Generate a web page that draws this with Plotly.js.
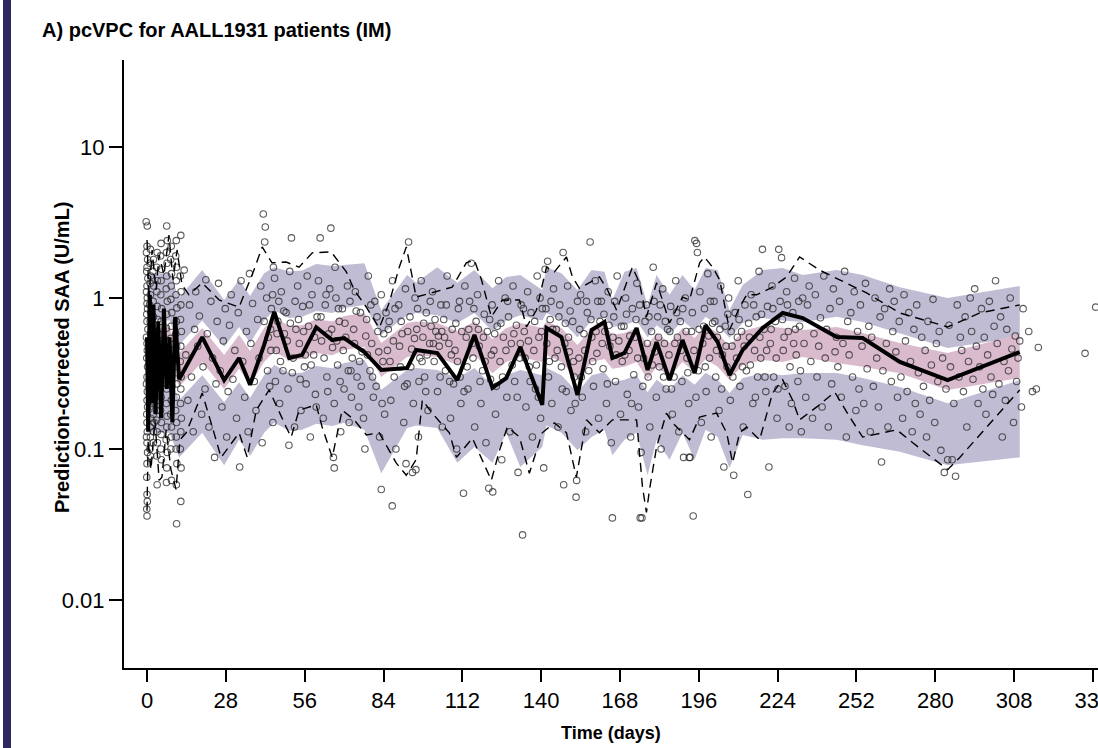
<!DOCTYPE html>
<html>
<head>
<meta charset="utf-8">
<script src="https://cdn.plot.ly/plotly-3.0.1.min.js"></script>
<style>html,body{margin:0;padding:0;background:#fff;}#chart{width:1098px;height:748px;}</style>
</head>
<body>
<div id="chart"></div>
<script>
// ---------- DATA ----------
const xTickVals = [0, 28, 56, 84, 112, 140, 168, 196, 224, 252, 280, 308, 336];
const xTickText = ['0','28','56','84','112','140','168','196','224','252','280','308','336'];
const yTickVals = [0.01, 0.1, 1, 10];
const yTickText = ['0.01','0.1','1','10'];

// observed median (thick black line)
const medianTime = [0,0.4,1,1.5,2.3,3,4,5,6,7,8,9,10,11.4,19.6,27.4,32.7,36.6,41.6,45.2,50.5,55.1,60.1,65.8,70.0,77.2,83.2,92.4,95.6,103.1,110.2,116.3,122.7,127.6,132.6,140.4,141.9,147.2,152.9,157.9,162.5,165.3,169.6,173.9,177.8,181.0,185.6,190.2,194.5,198.4,202.7,206.9,211.6,218.7,225.8,232.9,245.0,254.2,267.4,284.4,310.0];
const medianValue = [0.55,0.13,1.05,0.2,0.9,0.17,0.7,0.16,0.85,0.25,0.55,0.15,0.75,0.29,0.55,0.286,0.40,0.266,0.489,0.81,0.40,0.42,0.64,0.527,0.543,0.439,0.334,0.344,0.453,0.432,0.286,0.569,0.254,0.295,0.474,0.196,0.633,0.552,0.228,0.614,0.694,0.401,0.432,0.633,0.334,0.511,0.286,0.527,0.319,0.66,0.511,0.309,0.453,0.633,0.796,0.737,0.552,0.543,0.377,0.286,0.439];

// simulated prediction intervals (shaded bands)
const bandTime = [0,4,8,11.4,19.6,27.4,32.7,36.6,41.6,45.2,50.5,55.1,60.1,65.8,70.0,77.2,83.2,92.4,95.6,103.1,110.2,116.3,122.7,127.6,132.6,140.4,141.9,147.2,152.9,157.9,162.5,165.3,169.6,173.9,177.8,181.0,185.6,190.2,194.5,198.4,202.7,206.9,211.6,218.7,225.8,232.9,245.0,254.2,267.4,284.4,310.0];
const upperPIHi = [1.46,1.46,1.46,1.0,1.53,0.97,1.32,1.03,1.46,1.6,1.5,1.52,1.68,1.63,1.65,1.7,0.83,1.42,1.26,1.6,1.26,1.53,1.16,1.38,1.42,1.13,1.6,1.46,1.13,1.53,1.49,0.97,1.49,1.58,0.9,1.42,1.05,1.42,1.13,1.58,1.53,0.83,1.22,1.53,1.58,1.42,1.53,1.42,1.18,1.0,1.2];
const upperPILo = [0.71,0.71,0.71,0.488,0.71,0.475,0.643,0.503,0.71,0.83,0.737,0.75,0.82,0.796,0.858,0.9,0.57,0.77,0.796,0.77,0.683,0.796,0.604,0.71,0.77,0.71,0.796,0.71,0.55,0.71,0.75,0.643,0.66,0.71,0.55,0.66,0.57,0.71,0.61,0.75,0.66,0.543,0.683,0.737,0.71,0.694,0.75,0.694,0.586,0.466,0.552];
const medianPIHi = [0.633,0.633,0.633,0.432,0.633,0.42,0.57,0.445,0.633,0.737,0.654,0.66,0.725,0.70,0.76,0.796,0.503,0.683,0.70,0.683,0.604,0.70,0.535,0.633,0.683,0.633,0.70,0.633,0.488,0.633,0.66,0.57,0.586,0.633,0.488,0.586,0.503,0.633,0.543,0.66,0.586,0.48,0.604,0.654,0.633,0.614,0.643,0.586,0.503,0.432,0.58];
const medianPILo = [0.377,0.377,0.377,0.258,0.377,0.25,0.34,0.266,0.377,0.44,0.388,0.395,0.432,0.418,0.452,0.474,0.30,0.406,0.42,0.406,0.36,0.42,0.318,0.377,0.406,0.377,0.42,0.377,0.29,0.377,0.395,0.34,0.35,0.377,0.29,0.35,0.30,0.377,0.324,0.395,0.35,0.287,0.36,0.388,0.377,0.407,0.371,0.35,0.318,0.246,0.295];
const lowerPIHi = [0.308,0.308,0.308,0.21,0.308,0.204,0.277,0.218,0.308,0.36,0.318,0.32,0.354,0.343,0.371,0.39,0.247,0.334,0.344,0.334,0.295,0.344,0.261,0.308,0.334,0.308,0.344,0.308,0.238,0.308,0.324,0.277,0.287,0.308,0.238,0.287,0.247,0.308,0.266,0.32,0.287,0.235,0.295,0.318,0.308,0.319,0.319,0.295,0.257,0.201,0.286];
const lowerPILo = [0.128,0.128,0.128,0.088,0.128,0.078,0.115,0.09,0.128,0.149,0.132,0.134,0.147,0.142,0.149,0.134,0.069,0.138,0.143,0.138,0.081,0.103,0.081,0.128,0.076,0.103,0.143,0.128,0.098,0.12,0.134,0.091,0.115,0.128,0.067,0.115,0.085,0.128,0.085,0.134,0.12,0.075,0.124,0.115,0.118,0.118,0.115,0.106,0.096,0.078,0.088];

// observed 95th percentile (upper dashed)
const obsP95Time = [0,0.7,1.8,3.2,4.3,6.0,7.8,9.2,10.7,12.4,14.9,19.6,25.6,32.7,38.0,40.9,44.4,49.4,54.0,58.7,65.4,70.8,73.6,77.9,82.5,86.0,89.6,92.1,95.6,101.3,108.4,113.4,116.3,118.8,122.3,126.2,132.3,134.8,138.3,141.9,144.7,149.0,151.1,153.6,160.7,163.6,166.8,172.4,174.9,177.4,181.0,183.1,185.6,190.2,192.7,196.3,198.0,200.9,203.4,206.9,210.5,213.0,216.5,222.2,227.2,231.8,238.9,246.0,255.6,267.4,284.4,295.8,310.0];
const obsP95Value = [2.42,0.97,2.08,1.13,1.93,1.42,2.61,1.32,2.08,1.22,1.05,1.26,0.97,0.87,1.53,2.18,1.71,1.73,1.6,1.99,2.02,1.49,1.13,0.87,0.633,0.927,1.6,2.18,1.015,1.08,1.18,1.71,1.78,1.32,0.75,0.97,0.97,0.643,0.83,1.6,1.49,1.87,1.38,1.16,1.38,1.13,0.83,1.6,1.26,0.75,1.26,0.97,0.683,1.015,0.97,1.71,1.87,1.6,1.32,0.614,0.87,1.05,1.05,1.18,1.38,1.87,1.53,1.32,1.08,0.796,0.643,0.796,0.9];

// observed 5th percentile (lower dashed)
const obsP5Time = [0,0.4,1.4,2.8,4.3,5.3,6.8,8.5,10.3,11.7,13.9,19.6,23.8,26.3,32.7,35.6,38.8,43.4,49.4,51.2,54.0,60.1,62.2,65.8,69.3,73.6,77.9,82.5,86.0,88.5,92.1,95.6,97.8,101.3,107.4,109.9,115.6,119.1,122.3,125.2,128.0,132.3,135.8,140.4,144.7,149.0,152.5,156.1,160.7,165.3,170.3,173.9,176.0,177.4,178.5,181.0,184.5,186.7,192.7,196.3,202.3,205.9,208.0,210.5,213.0,217.6,222.2,225.8,229.3,231.8,237.9,244.3,249.6,254.2,266.3,272.0,284.4,288.7,298.3,310.0];
const obsP5Value = [0.039,0.115,0.073,0.156,0.062,0.065,0.134,0.073,0.054,0.115,0.128,0.235,0.128,0.088,0.128,0.088,0.181,0.246,0.14,0.12,0.181,0.196,0.14,0.088,0.181,0.156,0.124,0.128,0.098,0.081,0.067,0.085,0.211,0.173,0.128,0.088,0.118,0.085,0.062,0.098,0.14,0.12,0.069,0.128,0.149,0.128,0.065,0.156,0.128,0.156,0.156,0.156,0.056,0.038,0.054,0.103,0.173,0.149,0.115,0.163,0.173,0.128,0.081,0.128,0.14,0.115,0.235,0.287,0.211,0.156,0.19,0.238,0.163,0.12,0.134,0.11,0.073,0.088,0.14,0.246];

// observed prediction-corrected concentrations [time (days), SAA (U/mL)]
const observations = [
[-0.3,3.2],[0.1,3.0],[0,2.2],[-0.2,2.0],[0.2,1.8],[0,1.6],[-0.1,1.5],[0.3,1.35],[0,1.2],[-0.2,1.1],[0.1,1.0],[0,0.92],[0.2,0.85],[-0.1,0.78],[0,0.7],[0.3,0.62],[-0.2,0.55],[0,0.5],[0.1,0.45],[-0.1,0.4],[0.2,0.35],[0,0.3],[-0.2,0.27],[0.1,0.24],[0,0.21],[0.2,0.19],[-0.1,0.17],[0,0.15],[0.1,0.13],[-0.2,0.12],[0,0.11],[0.2,0.095],[0,0.08],[-0.1,0.065],[0,0.05],[0.1,0.045],[-0.1,0.04],[0,0.036],
[1.2,2.1],[1.0,1.7],[1.3,1.4],[1.1,1.25],[1.2,1.05],[0.9,0.9],[1.3,0.8],[1.1,0.7],[1.2,0.58],[1.0,0.5],[1.3,0.43],[1.1,0.37],[1.2,0.32],[0.9,0.26],[1.2,0.22],[1.0,0.19],[1.3,0.16],[1.1,0.14],[1.2,0.12],[1.0,0.1],[1.2,0.09],
[2.3,1.8],[2.1,1.5],[2.4,1.2],[2.2,0.95],[2.3,0.75],[2.5,0.6],[2.2,0.48],[2.4,0.4],[2.3,0.33],[2.1,0.28],[2.4,0.23],[2.3,0.2],[2.2,0.17],[2.5,0.15],[2.3,0.13],[2.2,0.11],
[3.6,2.0],[3.4,1.6],[3.7,1.3],[3.5,1.1],[3.6,0.88],[3.8,0.72],[3.5,0.6],[3.6,0.52],[3.4,0.44],[3.7,0.36],[3.6,0.3],[3.5,0.25],[3.7,0.21],[3.6,0.18],[3.4,0.155],[3.6,0.13],[3.7,0.11],[3.5,0.09],[3.6,0.058],
[5.0,2.3],[4.8,1.9],[5.1,1.55],[5.0,1.3],[4.9,1.05],[5.2,0.85],[5.0,0.7],[4.8,0.57],[5.1,0.47],[5.0,0.39],[4.9,0.33],[5.2,0.27],[5.0,0.22],[4.8,0.18],[5.1,0.15],[5.0,0.125],[4.9,0.1],[5.1,0.085],
[7.0,3.0],[7.2,2.4],[6.9,2.0],[7.1,1.7],[7.0,1.4],[6.8,1.15],[7.2,0.95],[7.0,0.78],[6.9,0.63],[7.1,0.52],[7.0,0.43],[6.8,0.36],[7.2,0.3],[7.0,0.25],[6.9,0.2],[7.1,0.165],[7.0,0.14],[6.8,0.115],[7.2,0.095],[7.0,0.075],[6.9,0.06],
[8.6,2.2],[8.4,1.8],[8.7,1.45],[8.6,1.2],[8.5,0.98],[8.8,0.8],[8.6,0.65],[8.4,0.54],[8.7,0.45],[8.6,0.37],[8.5,0.31],[8.8,0.26],[8.6,0.21],[8.4,0.17],[8.7,0.14],[8.6,0.12],[8.5,0.1],[8.7,0.062],
[10.4,2.4],[10.2,1.9],[10.5,1.6],[10.4,1.3],[10.3,1.05],[10.6,0.86],[10.4,0.7],[10.2,0.58],[10.5,0.48],[10.4,0.39],[10.3,0.32],[10.6,0.27],[10.4,0.22],[10.2,0.18],[10.5,0.15],[10.4,0.12],[10.3,0.1],[10.6,0.08],[10.4,0.058],[10.5,0.032],
[12.0,2.6],[11.8,1.4],[12.1,1.1],[12.0,0.9],[11.9,0.72],[12.2,0.6],[12.0,0.48],[11.8,0.38],[12.1,0.3],[12.0,0.25],[11.9,0.2],[12.2,0.16],[12.0,0.13],[11.8,0.1],[12.1,0.075],[12.0,0.045],
[13.2,1.53],[13.8,0.42],[14.5,0.21],[15.1,0.9],[15.8,0.3],[16.4,0.13],[16.9,0.62],
[17.3,1.1],[18.0,0.48],[18.6,0.76],[19.4,0.17],[19.9,0.35],[20.6,0.25],[20.9,1.32],
[21.4,0.58],[22.0,0.14],[22.7,0.95],[23.3,0.4],[24.0,0.088],[24.5,0.27],[24.9,0.7],
[25.4,1.25],[26.0,0.33],[26.6,0.19],[27.1,0.52],[27.8,0.85],[28.3,0.12],[28.8,0.24],
[29.3,0.66],[29.9,1.05],[30.5,0.29],[31.2,0.45],[31.8,0.16],[32.4,0.8],[32.9,0.076],
[33.4,1.3],[34.0,0.38],[34.7,0.22],[35.3,0.6],[35.9,0.13],[36.4,1.45],[36.9,0.5],
[37.5,0.92],[38.1,0.28],[38.7,0.18],[39.3,0.72],[39.8,0.4],[40.4,1.2],[40.9,0.11],
[41.3,3.6],[42.0,2.95],[41.8,2.35],[42.5,1.0],[43.1,0.55],[43.6,0.26],[44.2,0.85],[44.7,0.15],[44.9,1.6],[43.9,0.62],
[45.3,1.35],[45.9,0.45],[46.5,0.7],[47.1,0.2],[47.7,1.1],[48.3,0.33],[48.8,0.58],[46.8,0.95],
[49.4,0.8],[50.1,0.25],[50.7,1.5],[51.3,2.5],[51.9,0.4],[52.4,0.14],[52.9,0.62],[50.4,0.106],
[53.5,1.2],[54.1,0.5],[54.7,0.18],[55.3,0.88],[55.9,0.35],[56.5,0.27],[56.9,1.4],
[57.4,0.65],[58.0,0.12],[58.6,1.05],[59.2,0.42],[59.8,0.23],[60.4,0.75],[60.9,1.3],
[61.5,2.5],[62.0,0.52],[62.6,0.16],[63.3,0.9],[63.9,0.3],[64.5,0.58],[64.9,1.15],
[65.3,2.9],[65.9,0.47],[66.5,0.2],[67.1,1.0],[67.7,0.36],[68.3,0.7],[68.8,0.13],[66.8,1.6],
[69.4,0.85],[70.0,0.25],[70.6,0.55],[71.2,1.2],[71.8,0.15],[72.4,0.33],[72.9,0.4],
[73.4,0.62],[74.0,1.1],[74.6,0.3],[75.2,0.19],[75.8,0.8],[76.4,0.44],[76.9,0.16],
[77.4,0.1],[78.0,0.72],[78.6,1.4],[79.2,0.33],[79.8,0.5],[80.4,0.22],[80.9,0.95],
[81.4,0.26],[82.0,0.6],[82.6,0.12],[83.2,1.05],[83.8,0.38],[84.4,0.17],[84.9,0.8],[83.2,0.054],
[85.4,0.45],[86.0,0.7],[86.6,0.21],[87.2,1.3],[87.8,0.3],[88.4,0.1],[87.1,0.042],
[89.4,0.9],[90.0,0.35],[90.6,0.58],[91.2,0.15],[91.8,1.15],[92.4,0.27],[92.9,2.35],[92.0,0.08],
[93.4,0.75],[94.0,0.46],[94.6,0.2],[95.2,1.0],[95.8,0.62],[96.4,0.12],[96.9,0.4],[95.5,0.073],[94.3,0.07],
[97.4,1.3],[98.0,0.55],[98.6,0.3],[99.2,0.8],[99.8,0.18],[100.4,0.5],[100.9,0.65],[99.5,0.42],
[101.4,1.1],[102.0,0.38],[102.6,0.6],[103.2,0.24],[103.8,0.48],[104.4,0.9],[104.9,0.14],[103.5,0.56],
[105.4,0.72],[106.0,0.33],[106.6,1.4],[107.2,0.5],[107.8,0.16],[108.4,0.62],[108.9,0.27],
[109.4,0.45],[110.0,0.1],[110.6,0.85],[111.2,0.3],[111.8,0.6],[112.4,0.051],[112.9,1.2],[111.5,0.2],
[113.4,0.55],[114.0,0.25],[114.6,0.95],[115.2,1.7],[115.8,0.4],[116.4,0.14],[116.9,0.7],
[117.4,1.05],[118.0,0.48],[118.6,0.2],[119.2,0.33],[119.8,0.78],[120.4,0.11],[120.9,0.6],
[121.4,0.055],[122.0,0.29],[122.6,0.9],[123.2,0.45],[123.8,0.17],[124.4,0.65],[124.9,1.3],[122.8,0.052],
[125.4,0.38],[126.0,0.085],[126.6,0.55],[127.2,1.0],[127.8,0.22],[128.4,0.75],[128.9,0.13],
[129.4,0.5],[130.0,1.2],[130.6,0.28],[131.2,0.66],[131.8,0.07],[132.4,0.4],[132.9,0.9],
[133.4,0.027],[134.0,0.6],[134.6,0.19],[135.2,1.1],[135.8,0.35],[136.4,0.8],[136.9,0.12],
[137.4,0.45],[138.0,0.25],[138.6,1.4],[139.2,0.55],[139.8,0.16],[140.4,0.85],[140.9,0.075],[139.6,1.0],
[141.4,1.55],[142.0,0.5],[142.6,0.3],[143.2,0.72],[143.8,0.2],[144.4,1.15],[144.9,0.4],[142.3,1.75],
[145.4,0.62],[146.0,0.14],[146.6,0.9],[147.2,0.35],[147.8,2.0],[148.4,0.5],[148.9,0.24],[148.0,0.058],
[149.4,1.2],[150.0,0.44],[150.6,0.18],[151.2,0.7],[151.8,0.3],[152.4,0.048],[152.9,0.95],[152.6,0.062],
[153.4,0.4],[154.0,1.05],[154.6,0.22],[155.2,0.58],[155.8,0.13],[156.4,0.8],[156.9,0.33],
[157.4,2.35],[158.0,0.55],[158.6,0.26],[159.2,1.3],[159.8,0.43],[160.4,0.16],[160.9,0.7],
[161.4,0.95],[162.0,0.34],[162.6,0.6],[163.2,0.2],[163.8,1.1],[164.4,0.48],[164.9,0.11],
[165.3,0.035],[165.8,0.75],[166.4,0.28],[167.0,1.4],[167.6,0.52],[168.2,0.17],[168.8,0.38],
[169.4,0.65],[170.0,1.0],[170.6,0.23],[171.2,0.45],[171.8,0.12],[172.4,0.85],[172.9,0.31],
[173.4,0.55],[174.0,1.25],[174.6,0.19],[175.2,0.035],[175.8,0.035],[176.4,0.4],[176.9,0.7],[175.5,0.095],
[177.4,0.9],[178.0,0.3],[178.6,0.14],[179.2,0.6],[179.8,1.6],[180.4,0.44],[180.9,0.22],
[181.4,0.75],[182.0,0.35],[182.6,0.1],[183.2,1.15],[183.8,0.5],[184.4,0.25],[184.9,0.62],
[185.4,0.42],[186.0,0.88],[186.6,0.17],[187.2,0.3],[187.8,1.3],[188.4,0.55],[188.9,0.13],
[189.4,0.7],[190.0,0.28],[190.6,0.088],[191.2,1.0],[191.8,0.4],[192.4,0.2],[192.9,0.088],[192.6,0.088],
[193.4,0.6],[194.0,0.036],[194.6,2.4],[195.2,2.3],[195.8,0.33],[196.4,1.1],[196.9,0.15],[195.5,2.0],
[197.4,0.5],[198.0,0.85],[198.6,0.24],[199.2,1.45],[199.8,0.4],[200.4,0.12],[200.9,0.68],
[201.4,0.95],[202.0,0.3],[202.6,0.55],[203.2,0.18],[203.8,1.2],[204.4,0.42],[204.9,0.076],
[205.4,0.65],[206.0,0.35],[206.6,1.0],[207.2,0.21],[207.8,0.48],[208.4,0.067],[208.9,0.8],
[209.4,0.4],[210.0,1.3],[210.6,0.26],[211.2,0.6],[211.8,0.14],[212.4,0.9],[212.9,0.33],
[213.4,0.05],[214.0,0.55],[214.6,1.05],[215.2,0.2],[215.8,0.45],[216.4,0.75],[216.9,0.3],
[217.4,1.5],[218.0,0.4],[218.6,2.1],[219.2,0.62],[219.8,0.24],[220.4,0.88],[220.9,0.076],
[221.4,0.5],[222.0,1.2],[222.6,0.3],[223.2,0.7],[223.8,0.16],[224.4,2.1],[224.9,0.95],
[225.4,1.85],[226.0,0.45],[226.6,0.26],[227.2,1.1],[227.8,0.6],[228.4,0.35],[228.9,0.2],
[229.4,0.8],[230.0,1.35],[230.6,0.42],[231.2,0.28],[231.8,0.65],[232.4,0.13],[232.9,1.0],
[233.4,0.5],[234.0,0.22],[234.6,0.9],[235.2,1.2],[235.8,0.38],[236.4,0.16],[236.9,0.58],
[237.4,1.05],[238.0,0.3],[238.6,0.48],[239.2,0.74],[239.8,0.19],[240.4,1.4],[240.9,0.4],
[241.4,0.62],[242.0,0.14],[242.6,0.85],[243.2,0.27],[243.8,1.15],[244.4,0.44],[244.9,0.55],
[245.4,0.35],[246.0,0.95],[246.6,0.22],[247.2,0.5],[247.8,1.5],[248.4,0.12],[248.9,0.7],
[249.4,0.42],[250.0,0.8],[250.6,0.3],[251.2,1.1],[251.8,0.18],[252.4,0.6],[252.9,0.25],
[253.4,0.9],[254.0,0.48],[254.6,0.2],[255.2,1.25],[255.8,0.34],[256.4,0.65],[256.9,0.13],
[257.4,0.55],[258.0,0.26],[258.6,1.0],[259.2,0.4],[259.8,0.19],[260.4,0.75],[260.9,0.082],
[261.4,0.33],[262.0,0.85],[262.6,0.5],[263.2,0.14],[263.8,1.15],[264.4,0.28],[264.9,0.6],
[265.4,0.95],[266.0,0.44],[266.6,0.22],[267.2,0.7],[267.8,0.3],[268.4,0.16],[268.9,1.05],
[269.4,0.52],[270.0,0.24],[270.6,0.8],[271.2,0.38],[271.8,0.13],[272.4,0.62],[272.9,0.2],
[273.4,0.9],[274.0,0.32],[274.6,0.17],[275.2,0.55],[275.8,0.26],[276.4,0.45],[276.9,0.12],
[277.4,0.7],[278.0,0.21],[278.6,0.36],[279.2,0.98],[279.8,0.15],[280.4,0.5],[280.9,0.28],
[281.4,0.6],[282.0,0.098],[282.6,0.4],[283.2,0.07],[283.8,0.25],[284.4,0.085],[284.9,0.66],
[285.4,0.35],[286.0,0.085],[286.6,0.2],[287.2,0.066],[287.8,0.9],[288.4,0.3],[288.9,0.55],
[289.4,0.45],[290.0,0.24],[290.6,0.75],[291.2,0.14],[291.8,0.38],[292.4,1.0],[292.9,0.6],
[293.4,0.29],[294.0,1.15],[294.6,0.48],[295.2,0.2],[295.8,0.35],[296.4,0.85],[296.9,0.25],
[297.4,0.55],[298.0,0.17],[298.6,0.42],[299.2,0.95],[299.8,0.3],[300.4,0.23],[300.9,0.65],
[301.4,1.3],[302.0,0.5],[302.6,0.27],[303.2,0.75],[303.8,0.12],[304.4,0.38],[304.9,0.21],
[305.4,0.62],[306.0,0.33],[306.6,1.0],[307.2,0.46],[307.8,0.15],[308.4,0.56],[308.9,0.28],
[309.4,0.4],[310.0,0.52],[310.6,0.19],[311.2,0.85],
[313.2,0.6],[314.5,0.24],[315.9,0.25],[316.6,0.47],[333.2,0.43],[337.0,0.87],
[41.6,0.7],[42.8,0.33],[44.0,0.45],[44.6,1.05],[45.6,0.28],[46.2,0.58],[47.4,0.38],[48.6,0.82],
[49.8,0.52],[50.9,0.68],[51.6,0.32],[52.6,0.95],[53.8,0.72],[54.4,0.29],[55.6,0.6],[56.2,0.42],
[57.7,0.9],[58.3,0.36],[59.5,0.55],[60.1,0.19],[61.8,0.75],[62.9,0.4],[63.6,1.05],[64.2,0.24],
[65.6,0.62],[66.2,0.088],[66.5,0.075],[67.4,0.52],[68.0,0.85],[68.6,0.28],
[69.7,0.45],[70.3,0.68],[71.5,0.33],[72.1,0.95],[72.6,0.22],[73.7,0.5],[74.3,0.82],[75.5,0.38],[76.1,0.26],
[77.7,0.56],[78.3,0.42],[79.5,0.9],[80.1,0.3],[81.7,0.75],[82.3,0.44],[83.5,0.2],[84.1,0.58],
[85.7,0.62],[86.3,0.38],[87.5,0.52],[88.1,0.85],[89.7,0.48],[90.3,0.7],[91.5,0.26],[92.6,0.6],
[93.7,0.35],[95.0,0.54],[96.1,0.85],[96.6,0.28],[97.7,0.38],[98.3,0.68],[99.0,0.24],[100.6,0.95],
[101.7,0.5],[102.3,0.72],[104.1,0.3],[104.7,0.6],[105.7,0.55],[106.3,0.9],[107.5,0.28],[108.1,0.42],
[109.7,0.68],[110.3,0.38],[111.0,0.95],[112.6,0.24],[113.7,0.35],[114.3,0.62],[115.5,0.5],[116.1,0.85],
[117.7,0.62],[118.3,0.28],[119.5,0.55],[120.1,0.38],[121.7,0.72],[122.3,0.42],[123.5,0.58],[124.1,0.26],
[125.7,0.68],[126.3,0.3],[127.5,0.45],[128.1,0.95],[129.7,0.36],[130.3,0.58],[131.5,0.22],[132.6,0.5],
[133.7,0.85],[134.3,0.4],[135.5,0.52],[136.1,0.28],[137.7,0.7],[138.3,0.36],[139.0,0.22],[140.1,0.6],
[141.7,0.85],[142.9,0.38],[143.5,0.95],[144.1,0.62],[145.7,0.45],[146.3,0.75],[147.5,0.25],[148.6,0.68],
[149.7,0.55],[150.3,0.82],[151.5,0.38],[152.1,0.2],[153.7,0.62],[154.3,0.3],[155.5,0.45],[156.1,0.95],
[157.7,0.72],[158.3,0.38],[159.5,0.6],[160.1,0.95],[161.7,0.5],[162.3,0.78],[163.5,0.27],[164.1,0.66],
[165.5,0.55],[166.1,0.95],[166.7,0.42],[168.5,0.65],[169.7,0.42],[170.3,0.78],[171.5,0.56],[172.1,0.2],
[173.7,0.72],[174.3,0.4],[175.0,0.9],[176.1,0.26],[177.7,0.5],[178.3,0.75],[179.5,0.36],[180.1,0.95],
[181.7,0.55],[182.3,0.9],[183.5,0.3],[184.1,0.7],[185.7,0.6],[186.3,0.25],[187.5,0.5],[188.1,0.8],
[189.7,0.45],[190.3,0.85],[191.5,0.6],[192.1,0.32],[193.7,0.8],[194.3,0.45],[195.0,0.22],[196.1,0.62],
[197.7,0.65],[198.3,0.35],[199.5,0.56],[200.1,0.95],[201.7,0.7],[202.3,0.45],[203.5,0.62],[204.1,0.25],
[205.7,0.48],[206.3,0.78],[207.5,0.6],[208.1,0.3],[209.7,0.55],[210.3,0.72],[211.5,0.35],[212.1,0.48],
[213.7,0.68],[214.3,0.36],[215.5,0.9],[216.1,0.22],[217.7,0.55],[218.3,0.78],[219.5,0.3],[220.1,0.45],
[221.7,0.62],[222.3,0.85],[223.5,0.4],[224.1,0.25],[225.7,0.72],[226.3,0.55],[227.5,0.9],[228.1,0.14],
[229.7,0.5],[230.3,0.62],[231.5,0.95],[232.1,0.33]
];

// ---------- STYLE ----------
const FONT = 'Liberation Sans, Arial, Helvetica, sans-serif';
const TICKFONT = 'Liberation Sans Narrow, Arial Narrow, Liberation Sans, sans-serif';
const GRAY_BAND = 'rgb(191,188,211)';
const PINK_BAND = 'rgb(218,187,205)';

function bandTrace(hi, lo, color) {
  return {
    type: 'scatter', mode: 'lines',
    x: bandTime.concat(bandTime.slice().reverse()),
    y: hi.concat(lo.slice().reverse()),
    fill: 'toself', fillcolor: color,
    line: {width: 0, color: color},
    hoverinfo: 'skip'
  };
}

const traces = [
  bandTrace(upperPIHi, upperPILo, GRAY_BAND),
  bandTrace(lowerPIHi, lowerPILo, GRAY_BAND),
  bandTrace(medianPIHi, medianPILo, PINK_BAND),
  {
    type: 'scatter', mode: 'markers',
    x: observations.map(p => p[0]),
    y: observations.map(p => p[1]),
    marker: {symbol: 'circle-open', size: 6.5, color: 'rgba(45,45,45,0.78)', line: {width: 1.1}}
  },
  {
    type: 'scatter', mode: 'lines', x: obsP95Time, y: obsP95Value,
    line: {color: 'black', width: 1.4, dash: '9px,6px'}
  },
  {
    type: 'scatter', mode: 'lines', x: obsP5Time, y: obsP5Value,
    line: {color: 'black', width: 1.4, dash: '9px,6px'}
  },
  {
    type: 'scatter', mode: 'lines', x: medianTime, y: medianValue,
    line: {color: 'black', width: 4}
  }
];

const layout = {
  width: 1098, height: 748,
  margin: {l: 124, r: 0, t: 60, b: 80, pad: 0},
  paper_bgcolor: 'white', plot_bgcolor: 'white',
  showlegend: false,
  font: {family: FONT, color: 'black'},
  xaxis: {
    range: [-8.18, 337.8],
    tickmode: 'array', tickvals: xTickVals, ticktext: xTickText,
    showline: true, linecolor: 'black', linewidth: 2,
    ticks: 'outside', ticklen: 12, tickwidth: 2, tickcolor: 'black',
    showgrid: false, zeroline: false,
    tickfont: {family: TICKFONT, size: 22, color: 'black'},
    ticklabeloverflow: 'allow'
  },
  yaxis: {
    type: 'log', range: [-2.45, 1.576],
    tickmode: 'array', tickvals: yTickVals, ticktext: yTickText,
    showline: true, linecolor: 'black', linewidth: 2,
    ticks: 'outside', ticklen: 13, tickwidth: 2, tickcolor: 'black',
    showgrid: false, zeroline: false,
    tickfont: {family: TICKFONT, size: 22, color: 'black'}
  },
  shapes: [{
    type: 'rect', xref: 'paper', yref: 'paper',
    x0: (3 - 124) / 974, x1: (11 - 124) / 974,
    y0: -80 / 608, y1: 668 / 608,
    fillcolor: 'rgb(45,40,95)', line: {width: 0}
  }],
  annotations: [
    {text: '<b>A) pcVPC for AALL1931 patients (IM)</b>', xref: 'paper', yref: 'paper',
     x: (40 - 124) / 974, y: (668 - 30) / 608, xanchor: 'left', yanchor: 'middle',
     showarrow: false, font: {family: FONT, size: 20, color: 'black'}},
    {text: '<b>Time (days)</b>', xref: 'paper', yref: 'paper',
     x: 0.5, y: (668 - 733) / 608, xanchor: 'center', yanchor: 'middle',
     showarrow: false, font: {family: FONT, size: 18, color: 'black'}},
    {text: '<b>Prediction-corrected SAA (U/mL)</b>', xref: 'paper', yref: 'paper',
     x: (62 - 124) / 974, y: (668 - 357) / 608, xanchor: 'center', yanchor: 'middle',
     textangle: -90, showarrow: false, font: {family: FONT, size: 20, color: 'black'}}
  ]
};

Plotly.newPlot('chart', traces, layout, {staticPlot: true, displayModeBar: false});
</script>
</body>
</html>
